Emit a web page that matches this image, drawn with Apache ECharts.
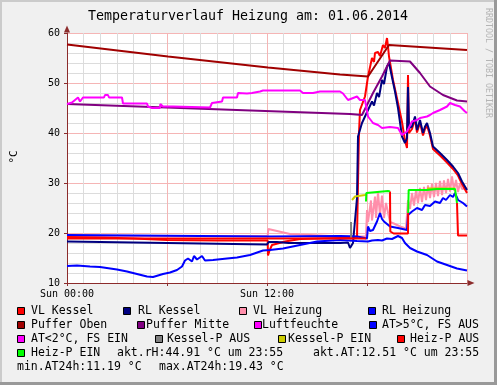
<!DOCTYPE html>
<html><head><meta charset="utf-8">
<script src="https://cdn.jsdelivr.net/npm/echarts@6/dist/echarts.min.js"></script>
<style>html,body{margin:0;padding:0;background:#f0f0f0}#c{width:497px;height:385px}</style>
</head><body><div id="c"></div>
<script>
// time in hours (0..24), value in °C / %
const title = 'Temperaturverlauf Heizung am: 01.06.2014';
const xTickLabels = {0: 'Sun 00:00', 12: 'Sun 12:00'};
const yTicks = [10, 20, 30, 40, 50, 60];

const vlKessel = [[0,19.2],[2,19.1],[4,18.9],[6,18.6],[9,18.5],[12.04,18.5],[12.06,15.5],[12.15,16.5],[12.3,17.6],[13.08,18.3],[14,18.8],[16.4,19.0],[17.4,19.0],[17.46,30],[17.52,40],[17.58,44.6],[17.88,47.3],[18.06,51.3],[18.3,55],[18.42,54.2],[18.48,56],[18.66,56.2],[18.78,55.4],[18.96,57.6],[19.08,57.0],[19.2,59],[19.26,57.3],[19.32,55.3],[19.56,50.6],[19.86,46],[20.1,42.2],[20.28,38.5],[20.4,37],[20.46,51.6],[20.52,40],[20.7,40.8],[20.88,42.8],[21,40.1],[21.18,42.1],[21.36,39.5],[21.48,40.8],[21.6,41.5],[21.78,39.5],[21.96,36.8],[22.38,35.5],[22.8,34.1],[23.16,32.8],[23.46,31.5],[23.7,29.8],[24,28]];
const rlKessel = [[0,18.3],[6,18.0],[12,17.7],[12.1,18.2],[12.2,18.5],[12.6,18.2],[13.3,18.0],[16.4,18.0],[16.86,18.1],[16.98,17],[17.16,18],[17.28,18],[17.4,27],[17.46,39.3],[17.7,42],[17.88,43.3],[18.06,44.6],[18.3,46.3],[18.42,45.5],[18.6,48],[18.72,47.2],[18.9,50.6],[19.02,49.8],[19.2,53.3],[19.32,54],[19.68,48.3],[19.86,45],[20.1,39.3],[20.28,38],[20.4,39],[20.46,49.2],[20.52,41],[20.7,41.3],[20.88,43.3],[21,40.6],[21.18,42.6],[21.36,40],[21.48,41.3],[21.6,42],[21.78,40],[21.96,37.3],[22.38,36],[22.8,34.6],[23.16,33.3],[23.46,32],[23.7,30.3],[24,28.6]];
const vlHeizung = [[0,19.4],[12.04,19.4],[12.08,20.8],[13.38,19.8],[16.38,19.3],[17.94,19.3],[18.0,24.6],[18.06,22.2],[18.24,26.5],[18.3,22.5],[18.48,27.3],[18.54,23.0],[18.66,28.2],[18.78,23.5],[18.9,27.5],[19.02,23.0],[19.14,26],[19.38,22.2],[19.68,21.8],[19.98,21.3],[20.34,20.9],[20.46,26.6],[20.58,24.8],[20.7,28],[20.82,25.5],[20.94,28.5],[21.06,26],[21.18,29],[21.3,26.2],[21.42,29.2],[21.54,26.6],[21.66,29.5],[21.78,27],[21.9,29.8],[22.02,27.2],[22.14,30],[22.26,27.4],[22.38,30.4],[22.5,27.6],[22.62,30.5],[22.74,28],[22.86,30.8],[22.98,28.3],[23.1,31.3],[23.22,28.5],[23.34,30.6],[23.46,28.2],[23.58,30],[23.7,28.8],[24,29]];
const rlHeizung = [[0,19.6],[12,19.3],[16.4,19.4],[17.4,19.3],[17.46,18.9],[18.0,18.9],[18.06,21.3],[18.18,20.4],[18.36,20.6],[18.6,22.3],[18.78,24],[18.9,22.8],[19.02,22.3],[19.38,21.3],[19.86,21],[20.4,20.6],[20.46,23.6],[20.7,24.3],[21.0,25],[21.3,24.6],[21.48,25.6],[21.78,25.4],[22.08,26.3],[22.38,26],[22.56,27],[22.74,26.6],[22.98,27.6],[23.16,27.2],[23.28,28],[23.46,26.6],[23.76,26],[24,25.3]];
const pufferOben = [[0,57.7],[6.06,55.3],[12.06,53.1],[16.38,51.7],[18.06,51.3],[19.32,57.6],[24,56.6]];
const pufferMitte = [[0,45.8],[16.98,43.8],[17.7,43.6],[18.36,48],[18.9,51.3],[19.38,54.5],[20.58,54.3],[21.18,52],[21.78,49.3],[22.56,47.6],[23.4,46.5],[24,46.3]];
const luftfeuchte = [[0,45.8],[0.3,46.1],[0.48,46.6],[0.66,47.1],[0.78,46.3],[0.96,47.1],[2.22,47.1],[2.28,47.6],[2.46,47.6],[2.52,47.1],[3.3,47.1],[3.36,45.9],[4.8,45.9],[4.86,45.3],[5.1,45.0],[5.58,45.0],[5.6,45.8],[5.7,45.8],[5.76,45.3],[6.36,45.3],[6.4,45.1],[8.58,45.1],[8.7,46.0],[8.76,46.3],[9.3,46.3],[9.36,47.1],[10.2,47.1],[10.26,48.0],[10.8,47.9],[10.86,47.5],[11.1,48.0],[11.58,48.3],[11.76,48.5],[12.78,48.5],[12.9,48.1],[13.2,48.5],[13.98,48.5],[14.16,48.0],[14.76,48.0],[15.18,48.3],[16.38,48.3],[16.56,47.9],[16.86,46.6],[17.4,47.3],[17.58,46.6],[17.88,46.6],[18.06,43.3],[18.36,42],[18.66,41.6],[18.9,41],[19.38,41.2],[19.86,41],[20.1,39.6],[20.4,40.3],[20.7,42.3],[21,42.6],[21.18,43],[21.6,43.3],[21.78,43.6],[21.96,44],[22.38,44.6],[22.8,45.3],[22.98,46],[23.28,45.6],[23.58,45.3],[23.88,44.3],[24,44]];
const aussenTemp = [[0,13.4],[0.6,13.5],[1.38,13.3],[1.98,13.2],[3,12.7],[3.6,12.3],[4.2,11.8],[4.8,11.3],[5.16,11.2],[5.76,11.8],[6.18,12.1],[6.6,12.6],[6.9,13.3],[7.08,14.5],[7.26,14.9],[7.5,14.3],[7.62,15.4],[7.8,14.7],[8.1,15.4],[8.28,14.5],[8.76,14.6],[9.6,14.9],[10.2,15.1],[10.98,15.6],[11.76,16.5],[12.18,16.6],[12.96,16.9],[13.98,17.6],[15,18.3],[16.38,18.6],[17.4,18.4],[18.06,18.3],[18.3,18.5],[18.66,18.6],[18.9,18.5],[19.2,18.9],[19.5,18.8],[19.86,19.4],[20.1,19.0],[20.28,18.0],[20.58,17.0],[21,16.3],[21.6,15.6],[22.2,14.3],[22.8,13.6],[23.4,12.9],[24,12.5]];
const kesselPAus = [[17.04,22.2],[17.05,19.0]];
const kesselPEin1 = [[17.1,26.6],[17.28,27.3],[17.88,27.6],[17.94,27.7]];
const kesselPEin2 = [[21.6,28.9],[23.28,28.9]];
const heizPAus1 = [[0,18.9],[17.94,18.9]];
const heizPAus2 = [[19.38,28.3],[19.4,20.3],[19.6,19.9],[20.46,19.9],[20.47,24]];
const heizPAus3 = [[23.4,26],[23.46,19.5],[24,19.5]];
const heizPEin1 = [[17.94,26.3],[17.96,28],[19.26,28.4],[19.38,28.3]];
const heizPEin2 = [[20.47,24],[20.5,28.6],[21.6,28.6],[22.2,28.8],[23.28,28.8],[23.4,26]];

const legendRows = [
  [{c:'#ff0000',sx:17,tx:31,t:'VL Kessel'},{c:'#000080',sx:123,tx:138,t:'RL Kessel'},{c:'#ff8fab',sx:239,tx:253,t:'VL Heizung'},{c:'#0000ff',sx:368,tx:382,t:'RL Heizung'}],
  [{c:'#a00000',sx:17,tx:31,t:'Puffer Oben'},{c:'#800080',sx:137,tx:146,t:'Puffer Mitte'},{c:'#ff00ff',sx:254,tx:262,t:'Luftfeuchte'},{c:'#0000ff',sx:369,tx:382,t:'AT>5°C, FS AUS'}],
  [{c:'#ff00ff',sx:17,tx:31,t:'AT<2°C, FS EIN'},{c:'#808080',sx:155,tx:167,t:'Kessel-P AUS'},{c:'#cccc00',sx:278,tx:288,t:'Kessel-P EIN'},{c:'#ff0000',sx:397,tx:410,t:'Heiz-P AUS'}],
  [{c:'#00ff00',sx:17,tx:31,t:'Heiz-P EIN'},{tx:117,t:'akt.rH:44.91 °C um 23:55'},{tx:313,t:'akt.AT:12.51 °C um 23:55'}],
  [{tx:17,t:'min.AT24h:11.19 °C'},{tx:159,t:'max.AT24h:19.43 °C'}]
];
const rowY = [311, 325, 339, 353, 367];

const MONO = '"DejaVu Sans Mono", monospace';
function line(name, data, color) {
  return {name, type:'line', data, showSymbol:false, symbol:'none', animation:false,
    lineStyle:{color, width:2}, itemStyle:{color}, clip:true};
}

const graphics = [];
// 3D frame
graphics.push({type:'rect', shape:{x:0,y:0,width:497,height:2}, style:{fill:'#cbcbcb'}, silent:true});
graphics.push({type:'rect', shape:{x:0,y:0,width:2,height:385}, style:{fill:'#cbcbcb'}, silent:true});
graphics.push({type:'rect', shape:{x:0,y:382,width:497,height:3}, style:{fill:'#999999'}, silent:true});
graphics.push({type:'rect', shape:{x:494,y:0,width:3,height:385}, style:{fill:'#999999'}, silent:true});
graphics.push({type:'text', x:248, y:17, style:{text:title, font:'13.3px '+MONO, fill:'#000', align:'center', verticalAlign:'middle'}});
graphics.push({type:'text', x:14, y:157, rotation:Math.PI/2, style:{text:'°C', font:'11px '+MONO, fill:'#000', align:'center', verticalAlign:'middle'}});
graphics.push({type:'text', x:488, y:63, rotation:-Math.PI/2, style:{text:'RRDTOOL / TOBI OETIKER', font:'8.3px '+MONO, fill:'#b4b4b4', align:'center', verticalAlign:'middle'}});
legendRows.forEach((row, i) => {
  row.forEach(it => {
    if (it.c) graphics.push({type:'rect', shape:{x:it.sx+0.5, y:rowY[i]-3.5, width:7, height:7}, style:{fill:it.c, stroke:'#000', lineWidth:1}});
    graphics.push({type:'text', x:it.tx, y:rowY[i], style:{text:it.t, font:'11.5px '+MONO, fill:'#000', align:'left', verticalAlign:'middle'}});
  });
});

const axisColor = '#8c2c2c';
const option = {
  backgroundColor:'#f0f0f0',
  animation:false,
  grid:{left:67, top:33, width:400, height:250, show:true, backgroundColor:'#ffffff', borderWidth:0},
  xAxis:{type:'value', min:0, max:24, interval:6,
    axisLine:{show:true, lineStyle:{color:axisColor, width:1}, symbol:['none','triangle'], symbolSize:[6,7], symbolOffset:[0,4]},
    axisTick:{show:true, length:3, lineStyle:{color:axisColor}},
    minorTick:{show:false, splitNumber:6},
    axisLabel:{formatter:v => xTickLabels[v] || '', color:'#000', fontFamily:'DejaVu Sans Mono', fontSize:10, margin:6, showMaxLabel:false},
    splitLine:{show:true, lineStyle:{color:'#f5b5b5', width:1}},
    minorSplitLine:{show:true, lineStyle:{color:'#dcdcdc', width:1}}
  },
  yAxis:{type:'value', min:yTicks[0], max:yTicks[yTicks.length-1], interval:10,
    axisLine:{show:true, lineStyle:{color:axisColor, width:1}, symbol:['none','triangle'], symbolSize:[6,7], symbolOffset:[0,4]},
    axisTick:{show:true, length:3, lineStyle:{color:axisColor}},
    minorTick:{show:false, splitNumber:5},
    axisLabel:{color:'#000', fontFamily:'DejaVu Sans Mono', fontSize:10, margin:7},
    splitLine:{show:true, lineStyle:{color:'#f5b5b5', width:1}},
    minorSplitLine:{show:true, lineStyle:{color:'#dcdcdc', width:1}}
  },
  series:[
    line('VL Heizung', vlHeizung, '#ff8fab'),
    line('VL Kessel', vlKessel, '#ff0000'),
    line('RL Kessel', rlKessel, '#000080'),
    line('RL Heizung', rlHeizung, '#0000ff'),
    line('Puffer Oben', pufferOben, '#a00000'),
    line('Puffer Mitte', pufferMitte, '#800080'),
    line('Luftfeuchte', luftfeuchte, '#ff00ff'),
    line('AT>5°C, FS AUS', aussenTemp, '#0000ff'),
    line('Kessel-P AUS', kesselPAus, '#808080'),
    line('Kessel-P EIN', kesselPEin1, '#cccc00'),
    line('Kessel-P EIN', kesselPEin2, '#cccc00'),
    line('Heiz-P AUS', heizPAus1, '#ff0000'),
    line('Heiz-P AUS', heizPAus2, '#ff0000'),
    line('Heiz-P AUS', heizPAus3, '#ff0000'),
    line('Heiz-P EIN', heizPEin1, '#00ff00'),
    line('Heiz-P EIN', heizPEin2, '#00ff00')
  ],
  graphic: graphics
};
const chart = echarts.init(document.getElementById('c'), null, {renderer:'canvas'});
chart.setOption(option);
</script></body></html>
